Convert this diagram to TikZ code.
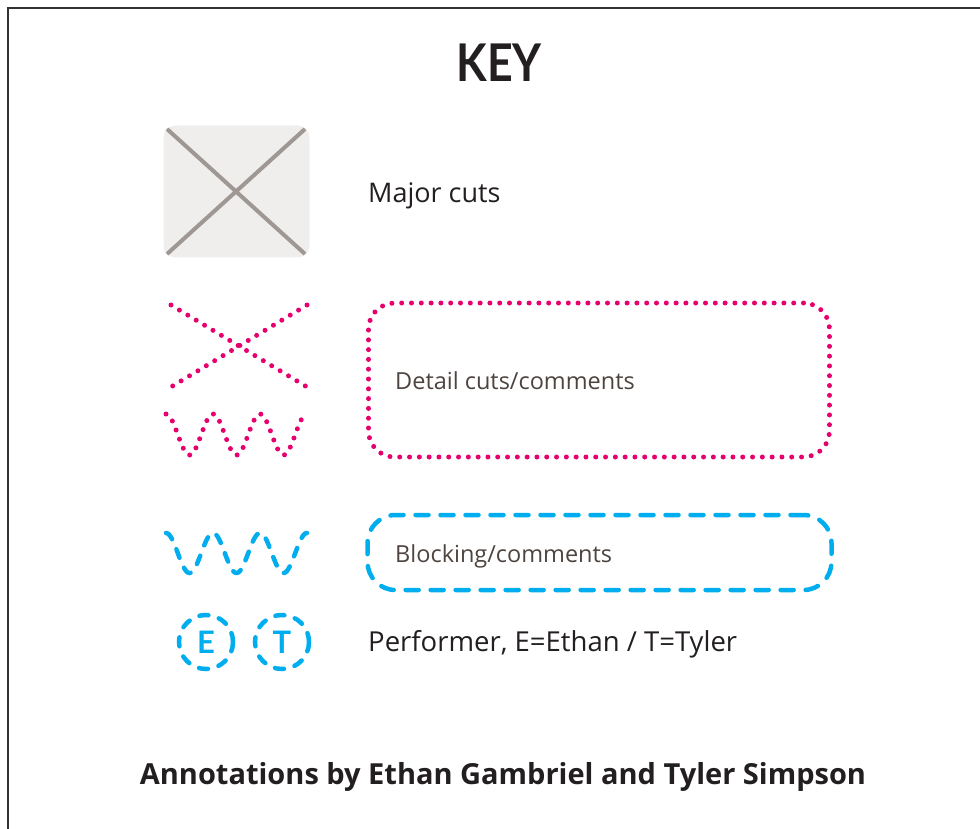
\documentclass[tikz,border=0pt]{standalone}
\usepackage{fontspec}
\setmainfont{Open Sans}
\newfontfamily\titlefont{Lato}
\usepackage{graphicx}
\definecolor{pinkc}{HTML}{E5006E}
\definecolor{bluec}{HTML}{00AEEF}
\definecolor{crossgray}{HTML}{9E9793}
\definecolor{boxgray}{HTML}{EFEEEC}
\definecolor{txtdark}{HTML}{231F20}
\definecolor{txtbrown}{HTML}{4D4440}
\tikzset{
  pinkdots/.style={draw=pinkc, line width=5pt, line cap=round, dash pattern=on 0pt off 9.8pt},
  bluedash/.style={draw=bluec, line width=4.5pt, line cap=round, dash pattern=on 9pt off 11pt},
  boxdash/.style={draw=bluec, line width=4.5pt, line cap=round, dash pattern=on 13pt off 12pt},
  crossline/.style={draw=crossgray, line width=4pt},
  keytext/.style={anchor=base west, inner sep=0pt, text=txtdark, font=\fontsize{27}{30}\selectfont},
  boxtext/.style={anchor=base west, inner sep=0pt, text=txtbrown, font=\fontsize{23.5}{26}\selectfont},
  perfcircle/.style={circle, bluedash, minimum size=54pt, inner sep=0pt, text=bluec, font=\titlefont\fontsize{31}{32}\selectfont\bfseries},
}
\begin{document}
\begin{tikzpicture}[x=1pt,y=-1pt]
\useasboundingbox (0,0) rectangle (980,829);
% frame
\draw[line width=1.5pt, color=black!80] (8,829) -- (8,8) -- (980,8);
% title
\node[inner sep=0pt, text=txtdark, font=\titlefont\fontsize{52}{52}\selectfont\bfseries] (title) at (499,63) {\scalebox{0.86}[1]{KEY}};
% major cuts
\node[fill=boxgray, rounded corners=12pt, minimum width=146pt, minimum height=132pt, inner sep=0pt] (major) at (236.5,191.5) {};
\coordinate (mtl) at (167,129);
\coordinate (mtr) at (305,129);
\coordinate (mbl) at (167,254);
\coordinate (mbr) at (305,254);
\draw[crossline] (mtl) -- (mbr);
\draw[crossline] (mtr) -- (mbl);
\node[keytext] (majortext) at (368,203) {Major cuts};
% detail cuts
\coordinate (dtl) at (171,305);
\coordinate (dtr) at (307,305);
\coordinate (dbl) at (171,387);
\coordinate (dbr) at (307,387);
\draw[pinkdots] (dtl) -- (dbr);
\draw[pinkdots] (dtr) -- (dbl);
\draw[pinkdots] plot[domain=166:307, samples=120] (\x, {434.5-20.5*cos(7.6596*(\x-166))});
\node[pinkdots, rounded corners=26pt, minimum width=461pt, minimum height=154pt, inner sep=0pt] (detailbox) at (599,380) {};
\node[boxtext] (detailtext) at (395,389) {Detail cuts/comments};
% blocking
\draw[bluedash] plot[domain=166:307, samples=120] (\x, {553-20*cos(7.6596*(\x-166))});
\node[boxdash, rounded corners=28pt, minimum width=464pt, minimum height=75pt, inner sep=0pt] (blockbox) at (599.5,552.5) {};
\node[boxtext] (blocktext) at (395,562) {Blocking/comments};
% performers
\node[perfcircle] (ecirc) at (206,642) {E};
\node[perfcircle] (tcirc) at (282,642) {T};
\node[keytext, font=\fontsize{27.5}{30}\selectfont] (perftext) at (368,651) {Performer, E=Ethan / T=Tyler};
% credit
\node[anchor=base, inner sep=0pt, text=txtdark, font=\fontsize{29}{34}\selectfont\bfseries] (credit) at (503,784) {Annotations by Ethan Gambriel and Tyler Simpson};
\end{tikzpicture}
\end{document}
